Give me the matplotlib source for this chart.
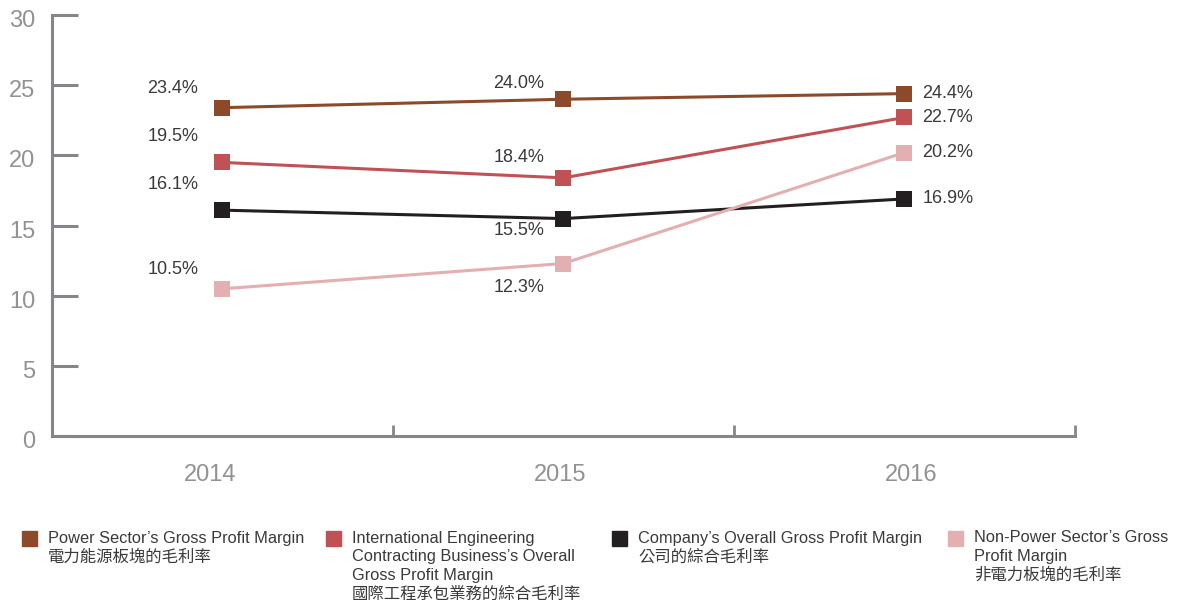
import matplotlib.pyplot as plt
from matplotlib.patches import Rectangle
from matplotlib.transforms import ScaledTranslation

# data
years = ['2014', '2015', '2016']
power = [23.4, 24.0, 24.4]
intl = [19.5, 18.4, 22.7]
company = [16.1, 15.5, 16.9]
non_power = [10.5, 12.3, 20.2]

series = [power, intl, company, non_power]
colors = ['#8c4a2b', '#c05155', '#231f20', '#e3afb0']
legend_labels = [
    ["Power Sector\u2019s Gross Profit Margin", "電力能源板塊的毛利率"],
    ["International Engineering", "Contracting Business\u2019s Overall",
     "Gross Profit Margin", "國際工程承包業務的綜合毛利率"],
    ["Company\u2019s Overall Gross Profit Margin", "公司的綜合毛利率"],
    ["Non-Power Sector\u2019s Gross", "Profit Margin", "非電力板塊的毛利率"],
]

# label offsets in pixels per series / year (dx, dy, ha)
offsets = [
    [(-24, 19, 'right'), (-19, 16, 'right'), (18, 0, 'left')],
    [(-24, 26, 'right'), (-19, 20, 'right'), (18, 0, 'left')],
    [(-24, 26, 'right'), (-19, -12, 'right'), (18, 0, 'left')],
    [(-24, 19, 'right'), (-19, -24, 'right'), (18, 0, 'left')],
]

plt.rcParams['font.family'] = ['Liberation Sans', 'Noto Sans CJK TC']

fig = plt.figure(figsize=(11.81, 6), dpi=100)
ax = fig.add_axes([0.044, 0.273, 0.866, 0.702])

x = range(len(years))
for vals, col, offs in zip(series, colors, offsets):
    ax.plot(x, vals, color=col, lw=2.2, marker='s', markersize=12,
            markeredgewidth=0, zorder=3)
    for xi, v, (dx, dy, ha) in zip(x, vals, offs):
        ax.annotate(f'{v:.1f}%', (xi, v), xytext=(dx, dy),
                    textcoords='offset pixels', ha=ha, va='center',
                    fontsize=13, color='#3a3a3a')

axis_col = '#86868a'
ax.set_xlim(-0.5, 2.5)
ax.set_ylim(0, 30)
ax.set_yticks(range(0, 31, 5))
ax.set_xticks(list(x))
ax.set_xticklabels(years)
ax.set_xticks([0.5, 1.5, 2.5], minor=True)

for s in ['top', 'right']:
    ax.spines[s].set_visible(False)
for s in ['left', 'bottom']:
    ax.spines[s].set_color(axis_col)
    ax.spines[s].set_linewidth(2.2)

ax.tick_params(axis='y', direction='in', length=19, width=2.2, color=axis_col,
               labelsize=17, labelcolor='#929295', pad=12)
ax.tick_params(axis='x', which='major', length=0, labelsize=17,
               labelcolor='#929295', pad=20)
ax.tick_params(axis='x', which='minor', direction='in', length=8, width=2,
               color=axis_col)

dpi = fig.dpi
for lbl in ax.get_yticklabels():
    lbl.set_va('center')
    lbl.set_transform(lbl.get_transform() +
                      ScaledTranslation(0, -6 / dpi, fig.dpi_scale_trans))
for lbl, dx in zip(ax.get_xticklabels(), [-12, -3, 7]):
    lbl.set_transform(lbl.get_transform() +
                      ScaledTranslation(dx / dpi, 0, fig.dpi_scale_trans))

# legend drawn by hand at the bottom
W, H = 1181, 600
col_x = [22, 326, 612, 948]
for cx, col, lines in zip(col_x, colors, legend_labels):
    fig.patches.append(Rectangle((cx / W, 1 - 546 / H), 15 / W, 15 / H,
                                 transform=fig.transFigure, color=col))
    for i, line in enumerate(lines):
        fig.text((cx + 26) / W, 1 - (538 + i * 18.7) / H, line,
                 fontsize=11.8, color='#3a3a3a', va='center')

fig.savefig('out.png', dpi=100)
